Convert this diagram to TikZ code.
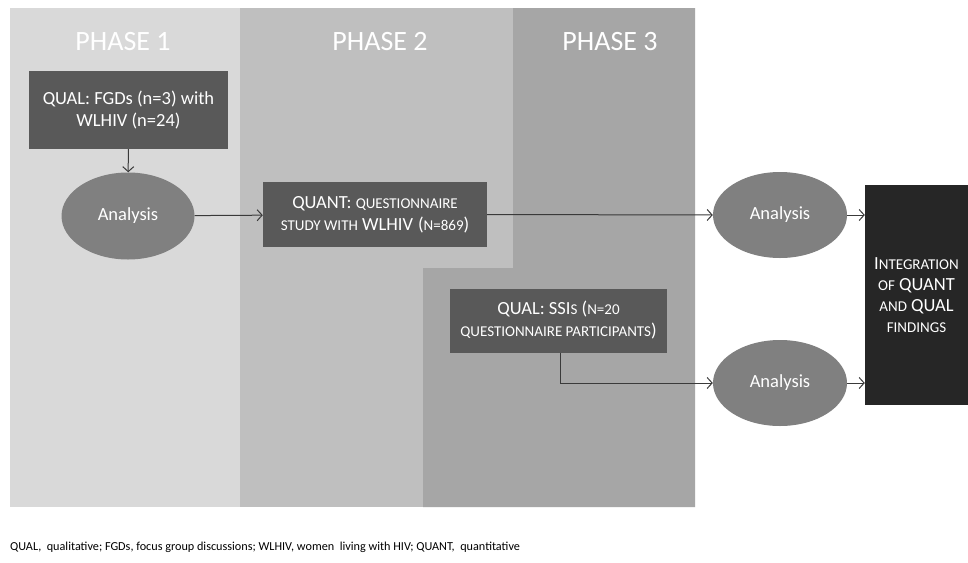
\documentclass[tikz,border=0pt]{standalone}
\usepackage{fontspec}
\setmainfont{Carlito}
\usetikzlibrary{shapes.geometric,arrows.meta}
\definecolor{pone}{HTML}{D9D9D9}
\definecolor{ptwo}{HTML}{BFBFBF}
\definecolor{pthree}{HTML}{A6A6A6}
\definecolor{boxg}{HTML}{595959}
\definecolor{ellg}{HTML}{808080}
\definecolor{intg}{HTML}{262626}
\definecolor{lineg}{HTML}{3A3A3A}
\newcommand\smc[1]{{\fontsize{15}{17}\selectfont #1}}
\tikzset{
  phasetitle/.style={text=white,font=\fontsize{28}{32}\selectfont,inner sep=0pt},
  darkbox/.style={fill=boxg,text=white,align=center,inner sep=0pt,font=\fontsize{18.5}{22}\selectfont},
  ellnode/.style={ellipse,fill=ellg,text=white,inner sep=0pt,minimum width=133pt,minimum height=87pt,font=\fontsize{18.5}{22}\selectfont},
  intbox/.style={fill=intg,text=white,align=center,inner sep=0pt,font=\fontsize{18.5}{21}\selectfont},
  arr/.style={draw=lineg,line width=1pt,-{Straight Barb[length=5pt,width=11pt]}}
}
\begin{document}
\begin{tikzpicture}[x=1pt,y=-1pt]
\useasboundingbox (0,0) rectangle (968,562);
\fill[white] (0,0) rectangle (968,562);
% phase panels
\fill[pone] (10,8) rectangle (240,507);
\fill[ptwo] (240,8) rectangle (695,507);
\fill[pthree] (513,8) -- (695,8) -- (695,507) -- (423,507) -- (423,268) -- (513,268) -- cycle;
\node[phasetitle] (ph1) at (123,42) {PHASE 1};
\node[phasetitle] (ph2) at (380,42) {PHASE 2};
\node[phasetitle] (ph3) at (610,42) {PHASE 3};
% boxes
\node[darkbox,minimum width=199pt,minimum height=78pt] (fgd) at (128.5,110)
  {QUAL: FGDs (n=3) with\\WLHIV (n=24)};
\node[ellnode] (an1) at (128,216) {Analysis};
\node[darkbox,minimum width=224pt,minimum height=65pt] (quant) at (375,214.5)
  {QUANT: \smc{QUESTIONNAIRE}\\\smc{STUDY WITH} WLHIV\hspace{5pt}(\smc{N=869})};
\node[darkbox,minimum width=217pt,minimum height=64pt] (ssi) at (558.5,320.5)
  {QUAL: SSI\smc{S} (\smc{N=20}\\\smc{QUESTIONNAIRE PARTICIPANTS})};
\node[ellnode,minimum width=134pt,minimum height=86pt] (an2) at (780,215) {Analysis};
\node[ellnode,minimum width=134pt,minimum height=86pt] (an3) at (780,383) {Analysis};
\node[intbox,minimum width=103pt,minimum height=220pt] (integ) at (916.5,295)
  {I\smc{NTEGRATION}\\\smc{OF} QUANT\\\smc{AND} QUAL\\\smc{FINDINGS}};
% connectors
\draw[arr] (fgd) -- (an1);
\draw[arr] (an1) -- (quant);
\draw[arr] (quant.east) -- (an2.west);
\draw[arr] (an2.east) -- (integ.west |- an2.east);
\draw[arr] ([xshift=1.5pt]ssi.south) |- (an3.west);
\draw[arr] (an3.east) -- (integ.west |- an3.east);
% footnote
\node[anchor=west,inner sep=0pt,font=\fontsize{12.2}{14}\selectfont] (note) at (10,547)
  {QUAL,\ \ qualitative; FGDs, focus group discussions; WLHIV, women\ \ living with HIV; QUANT,\ \ quantitative};
\end{tikzpicture}
\end{document}
